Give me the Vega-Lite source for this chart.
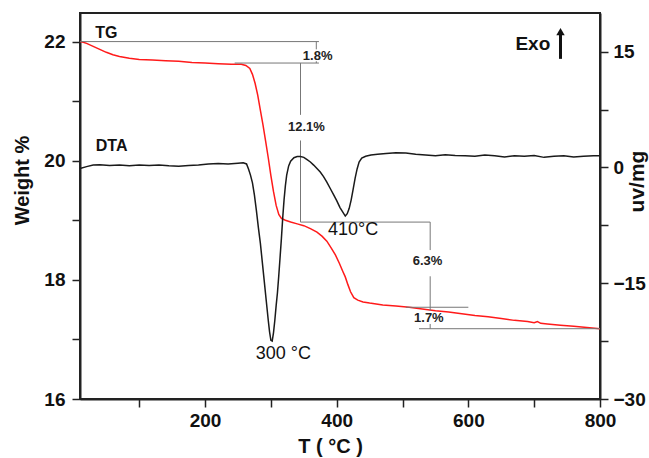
{
  "$schema": "https://vega.github.io/schema/vega-lite/v6.json",
  "width": 520,
  "height": 386,
  "autosize": {"type": "none"},
  "padding": {"left": 80, "top": 13, "right": 49, "bottom": 59},
  "config": {
    "font": "Liberation Sans",
    "view": {"stroke": "#222", "strokeWidth": 2},
    "axis": {
      "domainColor": "#222", "domainWidth": 2, "tickColor": "#222", "tickWidth": 1.5, "tickSize": 8,
      "labelFontSize": 19, "labelFontWeight": "bold", "labelColor": "#111",
      "titleFontSize": 20, "titleFontWeight": "bold", "titleColor": "#111",
      "grid": false, "labelOverlap": false, "labelFlush": false, "labelBound": false
    }
  },
  "datasets": {
    "tg": [
      {"T": 10, "w": 22.0}, {"T": 15, "w": 21.99}, {"T": 20, "w": 21.97}, {"T": 30, "w": 21.92}, {"T": 40, "w": 21.87},
      {"T": 50, "w": 21.82}, {"T": 60, "w": 21.78}, {"T": 70, "w": 21.75}, {"T": 85, "w": 21.72}, {"T": 100, "w": 21.7},
      {"T": 120, "w": 21.69}, {"T": 140, "w": 21.68}, {"T": 160, "w": 21.67}, {"T": 180, "w": 21.65}, {"T": 200, "w": 21.64},
      {"T": 220, "w": 21.63}, {"T": 240, "w": 21.62}, {"T": 255, "w": 21.62}, {"T": 262, "w": 21.6}, {"T": 268, "w": 21.55},
      {"T": 272, "w": 21.45}, {"T": 276, "w": 21.3}, {"T": 280, "w": 21.1}, {"T": 284, "w": 20.85}, {"T": 288, "w": 20.6},
      {"T": 292, "w": 20.33}, {"T": 296, "w": 20.05}, {"T": 300, "w": 19.75}, {"T": 304, "w": 19.48}, {"T": 308, "w": 19.25},
      {"T": 312, "w": 19.1}, {"T": 316, "w": 19.03}, {"T": 322, "w": 19.0}, {"T": 330, "w": 18.97}, {"T": 340, "w": 18.94},
      {"T": 350, "w": 18.91}, {"T": 360, "w": 18.86}, {"T": 370, "w": 18.8}, {"T": 378, "w": 18.73}, {"T": 385, "w": 18.65},
      {"T": 392, "w": 18.53}, {"T": 398, "w": 18.42}, {"T": 404, "w": 18.28}, {"T": 409, "w": 18.15}, {"T": 413, "w": 18.05},
      {"T": 417, "w": 17.92}, {"T": 421, "w": 17.8}, {"T": 426, "w": 17.7}, {"T": 432, "w": 17.66}, {"T": 440, "w": 17.63},
      {"T": 450, "w": 17.61}, {"T": 470, "w": 17.58}, {"T": 490, "w": 17.56}, {"T": 510, "w": 17.54}, {"T": 530, "w": 17.51},
      {"T": 550, "w": 17.48}, {"T": 570, "w": 17.46}, {"T": 590, "w": 17.43}, {"T": 610, "w": 17.4}, {"T": 630, "w": 17.38},
      {"T": 650, "w": 17.35}, {"T": 670, "w": 17.32}, {"T": 690, "w": 17.3}, {"T": 700, "w": 17.28}, {"T": 705, "w": 17.3},
      {"T": 710, "w": 17.27}, {"T": 720, "w": 17.26}, {"T": 740, "w": 17.24}, {"T": 760, "w": 17.22}, {"T": 780, "w": 17.2},
      {"T": 800, "w": 17.18}
    ],
    "dta": [
      {"T": 10, "v": -0.15}, {"T": 20, "v": 0.1}, {"T": 30, "v": 0.3}, {"T": 40, "v": 0.35}, {"T": 55, "v": 0.25},
      {"T": 70, "v": 0.3}, {"T": 85, "v": 0.2}, {"T": 100, "v": 0.3}, {"T": 115, "v": 0.25}, {"T": 130, "v": 0.3},
      {"T": 145, "v": 0.2}, {"T": 160, "v": 0.15}, {"T": 175, "v": 0.25}, {"T": 190, "v": 0.3}, {"T": 205, "v": 0.45},
      {"T": 220, "v": 0.5}, {"T": 235, "v": 0.45}, {"T": 250, "v": 0.55}, {"T": 258, "v": 0.6}, {"T": 263, "v": 0.45},
      {"T": 266, "v": -0.2}, {"T": 269, "v": -1.0}, {"T": 272, "v": -2.0}, {"T": 275, "v": -3.6}, {"T": 278, "v": -5.6},
      {"T": 281, "v": -7.8}, {"T": 284, "v": -9.8}, {"T": 287, "v": -12.3}, {"T": 290, "v": -14.8}, {"T": 293, "v": -17.3},
      {"T": 296, "v": -19.8}, {"T": 298, "v": -21.3}, {"T": 300, "v": -22.4}, {"T": 302, "v": -22.5}, {"T": 304, "v": -21.4},
      {"T": 306, "v": -19.8}, {"T": 308, "v": -17.9}, {"T": 310, "v": -16.2}, {"T": 312, "v": -14.0}, {"T": 314, "v": -11.6},
      {"T": 316, "v": -9.2}, {"T": 318, "v": -6.5}, {"T": 320, "v": -4.2}, {"T": 322, "v": -2.4}, {"T": 324, "v": -1.0},
      {"T": 327, "v": 0.2}, {"T": 330, "v": 0.8}, {"T": 335, "v": 1.25}, {"T": 340, "v": 1.4}, {"T": 345, "v": 1.4},
      {"T": 350, "v": 1.3}, {"T": 355, "v": 1.0}, {"T": 360, "v": 0.7}, {"T": 365, "v": 0.3}, {"T": 370, "v": -0.15},
      {"T": 375, "v": -0.6}, {"T": 380, "v": -1.2}, {"T": 385, "v": -1.9}, {"T": 390, "v": -2.7}, {"T": 395, "v": -3.5},
      {"T": 400, "v": -4.3}, {"T": 405, "v": -5.2}, {"T": 410, "v": -5.9}, {"T": 413, "v": -6.3}, {"T": 416, "v": -6.0},
      {"T": 419, "v": -5.3}, {"T": 422, "v": -4.2}, {"T": 425, "v": -2.8}, {"T": 428, "v": -1.4}, {"T": 431, "v": -0.2},
      {"T": 434, "v": 0.7}, {"T": 438, "v": 1.2}, {"T": 444, "v": 1.45}, {"T": 452, "v": 1.6}, {"T": 462, "v": 1.7},
      {"T": 475, "v": 1.8}, {"T": 490, "v": 1.9}, {"T": 505, "v": 1.85}, {"T": 520, "v": 1.7}, {"T": 535, "v": 1.6},
      {"T": 550, "v": 1.5}, {"T": 565, "v": 1.65}, {"T": 580, "v": 1.55}, {"T": 595, "v": 1.5}, {"T": 610, "v": 1.45},
      {"T": 625, "v": 1.6}, {"T": 640, "v": 1.5}, {"T": 655, "v": 1.35}, {"T": 670, "v": 1.5}, {"T": 685, "v": 1.45},
      {"T": 700, "v": 1.55}, {"T": 715, "v": 1.3}, {"T": 730, "v": 1.45}, {"T": 745, "v": 1.5}, {"T": 760, "v": 1.35},
      {"T": 775, "v": 1.45}, {"T": 790, "v": 1.5}, {"T": 800, "v": 1.5}
    ],
    "guides": [
      {"T": 10, "T2": 373, "w": 22.0, "w2": 22.0},
      {"T": 245, "T2": 373, "w": 21.64, "w2": 21.64},
      {"T": 369, "T2": 369, "w": 22.0, "w2": 21.87},
      {"T": 369, "T2": 369, "w": 21.67, "w2": 21.64},
      {"T": 345, "T2": 345, "w": 21.64, "w2": 20.77},
      {"T": 345, "T2": 345, "w": 20.34, "w2": 18.97},
      {"T": 345, "T2": 542, "w": 18.97, "w2": 18.97},
      {"T": 542, "T2": 542, "w": 18.97, "w2": 18.5},
      {"T": 542, "T2": 542, "w": 18.06, "w2": 17.48},
      {"T": 542, "T2": 542, "w": 17.26, "w2": 17.18},
      {"T": 505, "T2": 600, "w": 17.54, "w2": 17.54},
      {"T": 525, "T2": 800, "w": 17.18, "w2": 17.18}
    ],
    "pct": [
      {"T": 371, "w": 21.76, "label": "1.8%"},
      {"T": 354, "w": 20.56, "label": "12.1%"},
      {"T": 538, "w": 18.31, "label": "6.3%"},
      {"T": 540, "w": 17.36, "label": "1.7%"}
    ],
    "names": [
      {"T": 50, "w": 22.15, "label": "TG"},
      {"T": 58, "w": 20.24, "label": "DTA"}
    ],
    "temps": [
      {"T": 425, "w": 18.84, "label": "410°C"},
      {"T": 319, "w": 16.75, "label": "300 °C"}
    ],
    "exo": [{"T": 698, "v": 15.96, "label": "Exo"}],
    "arrow": [{"T": 740, "v": 14.06, "v2": 17.3}],
    "arrowhead": [{"T": 740, "v": 17.6}]
  },
  "layer": [
    {
      "encoding": {
        "x": {"field": "T", "type": "quantitative", "scale": {"domain": [10, 800], "nice": false, "zero": false},
          "axis": {
            "values": [100, 200, 300, 400, 500, 600, 700, 800],
            "labelExpr": "datum.value % 200 === 0 ? datum.label : ''",
            "labelPadding": 4,
            "title": "T ( °C )", "titleX": 250, "titleY": 47, "titleBaseline": "middle", "titleAlign": "center",
            "encoding": {"ticks": {"update": {"y2": {"signal": "datum.value % 200 === 0 ? 8 : 4"}}}}
          }},
        "y": {"field": "w", "type": "quantitative", "scale": {"domain": [16, 22.48], "nice": false, "zero": false},
          "axis": {
            "orient": "left",
            "values": [16, 17, 18, 19, 20, 21, 22],
            "labelExpr": "datum.value % 2 === 0 ? datum.label : ''",
            "labelPadding": 7,
            "title": "Weight %", "titleX": -58, "titleY": 167, "titleAngle": 270, "titleAlign": "center", "titleBaseline": "middle",
            "encoding": {"ticks": {"update": {"x2": {"signal": "datum.value % 2 === 0 ? -8 : -4"}}}}
          }}
      },
      "layer": [
        {
          "data": {"name": "tg"},
          "mark": {"type": "line", "color": "#ff1a1a", "strokeWidth": 1.5}
        },
        {
          "data": {"name": "guides"},
          "mark": {"type": "rule", "color": "#777", "strokeWidth": 1},
          "encoding": {"x2": {"field": "T2"}, "y2": {"field": "w2"}}
        },
        {
          "data": {"name": "pct"},
          "mark": {"type": "text", "fontSize": 13, "fontWeight": "bold", "color": "#222", "align": "center", "baseline": "middle"},
          "encoding": {"text": {"field": "label"}}
        },
        {
          "data": {"name": "names"},
          "mark": {"type": "text", "fontSize": 16, "fontWeight": "bold", "color": "#111", "align": "center", "baseline": "middle"},
          "encoding": {"text": {"field": "label"}}
        },
        {
          "data": {"name": "temps"},
          "mark": {"type": "text", "fontSize": 18, "color": "#111", "align": "center", "baseline": "middle"},
          "encoding": {"text": {"field": "label"}}
        }
      ]
    },
    {
      "encoding": {
        "x": {"field": "T", "type": "quantitative", "scale": {"domain": [10, 800], "nice": false, "zero": false}},
        "y": {"field": "v", "type": "quantitative", "scale": {"domain": [-30, 20], "nice": false, "zero": false},
          "axis": {
            "orient": "right",
            "values": [-30, -22.5, -15, -7.5, 0, 7.5, 15],
            "labelExpr": "datum.value % 15 === 0 ? datum.label : ''",
            "labelPadding": 5,
            "title": "uv/mg", "titleFontSize": 21, "titleX": 37, "titleY": 168, "titleAngle": 270, "titleAlign": "center", "titleBaseline": "middle",
            "encoding": {"ticks": {"update": {"x2": {"signal": "datum.value % 15 === 0 ? 8 : 4"}}}}
          }}
      },
      "layer": [
        {
          "data": {"name": "dta"},
          "mark": {"type": "line", "color": "#1a1a1a", "strokeWidth": 1.5}
        },
        {
          "data": {"name": "exo"},
          "mark": {"type": "text", "fontSize": 19, "fontWeight": "bold", "color": "#111", "align": "center", "baseline": "middle"},
          "encoding": {"text": {"field": "label"}}
        },
        {
          "data": {"name": "arrow"},
          "mark": {"type": "rule", "color": "#111", "strokeWidth": 3},
          "encoding": {"y2": {"field": "v2"}}
        },
        {
          "data": {"name": "arrowhead"},
          "mark": {"type": "point", "shape": "triangle-up", "filled": true, "color": "#111", "size": 70, "opacity": 1}
        }
      ]
    }
  ],
  "resolve": {"scale": {"y": "independent"}}
}
